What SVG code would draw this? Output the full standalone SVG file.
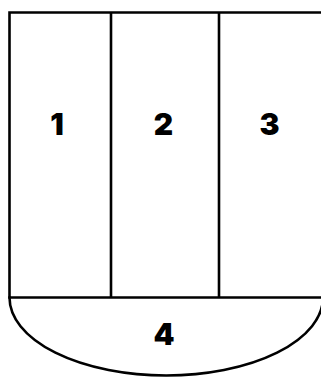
<svg xmlns="http://www.w3.org/2000/svg" width="321" height="378" viewBox="0 0 321 378">
<style>
.ln{fill:none;stroke:#000;stroke-width:2.6;stroke-linecap:square}
.lb{font-family:Inter,"DejaVu Sans","Liberation Sans",sans-serif;font-weight:900;font-size:30px;text-anchor:middle;fill:#000}
</style>
<rect width="321" height="378" fill="#fff"/>
<g id="connectors">
<path class="ln" d="M9.5 12.5 H323 M9.5 12.5 V297.5 M323 12.5 V297.5 M9.5 297.5 H323 M111 12.5 V297.5 M219 12.5 V297.5"/>
<path class="ln" d="M9.5 297.5 A156.75 78 0 0 0 323 297.5"/>
</g>
<g id="n1"><text class="lb" x="57" y="135">1</text></g>
<g id="n2"><text class="lb" x="163.5" y="135">2</text></g>
<g id="n3"><text class="lb" x="269.5" y="135">3</text></g>
<g id="n4"><text class="lb" x="164" y="345">4</text></g>
</svg>
